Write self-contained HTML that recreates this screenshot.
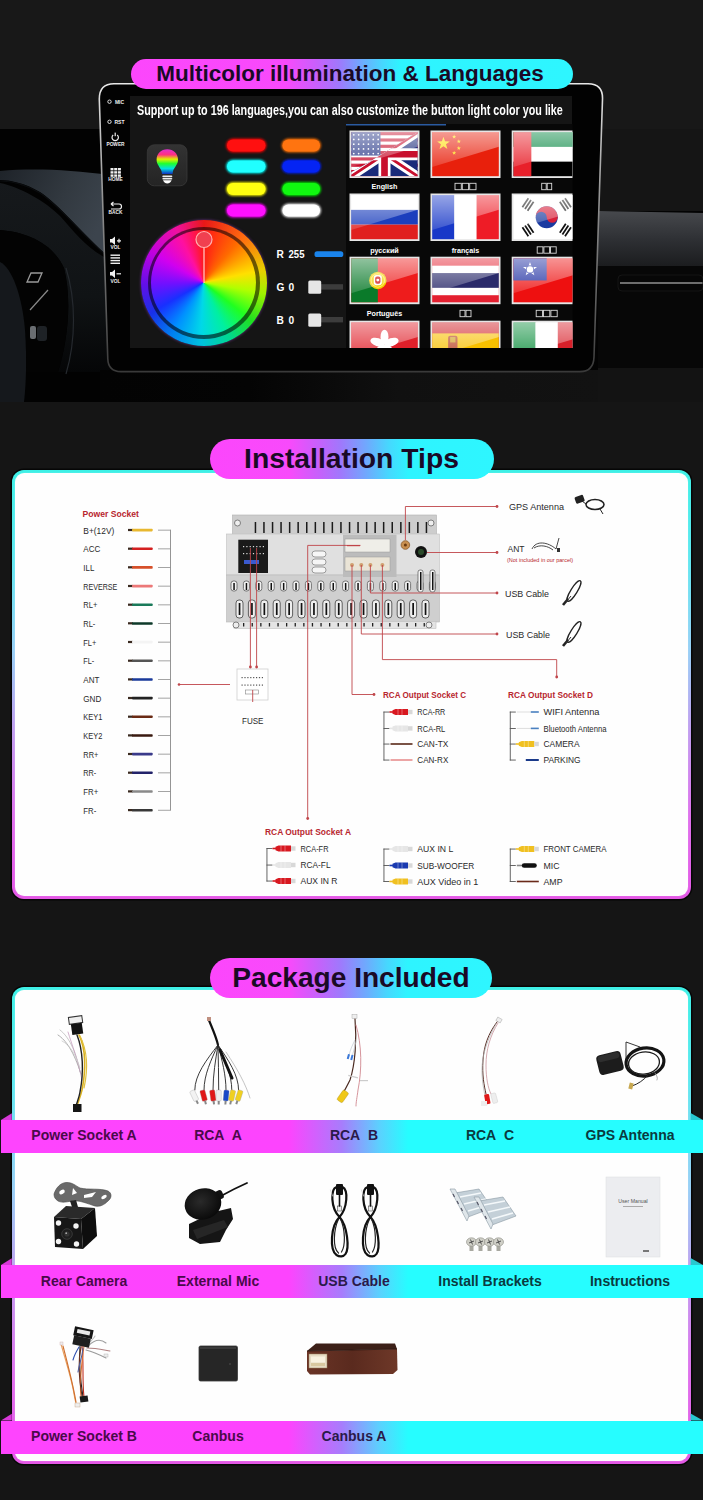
<!DOCTYPE html>
<html><head><meta charset="utf-8">
<style>
*{margin:0;padding:0;box-sizing:border-box}
html,body{width:703px;height:1500px;overflow:hidden;background:#151515;font-family:"Liberation Sans",sans-serif}
.a{position:absolute}
.pill{position:absolute;border-radius:30px;background:linear-gradient(90deg,#fc46fc 0%,#f84afb 28%,#c860fb 38%,#a078fc 46%,#70a8fd 55%,#46d8fe 63%,#2ef4ff 70%,#2ef6ff 100%);color:#1a0a26;font-weight:bold;text-align:center;white-space:nowrap}
.panel{position:absolute;border-radius:12px;background:linear-gradient(180deg,#3ef0e6 0%,#60e8f0 20%,#98d0f6 42%,#c0a0f0 60%,#e070ec 82%,#e458e6 100%);box-shadow:0 0 0 1.5px #060606}
.panel>.in{position:absolute;left:3px;top:3px;right:3px;bottom:3px;border-radius:9.5px;background:#fefefe;box-shadow:0 0 1px 0 rgba(255,255,255,.6)}
.band{position:absolute;left:1px;width:702px;height:33px;background:linear-gradient(90deg,#fe44fe 0%,#fd44fe 41%,#a87cfc 48.5%,#5ad2fe 54%,#26fdff 58%,#26fdff 100%)}
.band span{position:absolute;top:-1px;line-height:33px;font-size:14px;font-weight:bold;transform:translateX(-50%);white-space:nowrap}
.fl{position:absolute;width:0;height:0}
</style></head><body>
<!-- ===== SECTION 1 ===== -->
<div class="a" style="left:0;top:0;width:703px;height:129px;background:#181818"></div>
<div class="a" style="left:0;top:129px;width:703px;height:273px;background:#030303"></div>
<svg class="a" style="left:0;top:0" width="703" height="402" viewBox="0 0 703 402">
<defs>
<linearGradient id="hood" x1="0" y1="0" x2="0" y2="1"><stop offset="0" stop-color="#3d444c"/><stop offset="1" stop-color="#1c2126"/></linearGradient>
<linearGradient id="dash" x1="0" y1="0" x2="0" y2="1"><stop offset="0" stop-color="#47494d"/><stop offset="0.5" stop-color="#2e3034"/><stop offset="1" stop-color="#1a1b1d"/></linearGradient>
<linearGradient id="bez" x1="0" y1="0" x2="0" y2="1"><stop offset="0" stop-color="#e8e8e8"/><stop offset="0.35" stop-color="#9a9a9a"/><stop offset="1" stop-color="#3a3a3a"/></linearGradient>
</defs>
<!-- left interior -->
<linearGradient id="hood2" x1="0" y1="0" x2="1" y2="0.4"><stop offset="0" stop-color="#1e2329"/><stop offset="0.6" stop-color="#323940"/><stop offset="1" stop-color="#3c444d"/></linearGradient>
<radialGradient id="lowr" cx="0.2" cy="0.4" r="0.8"><stop offset="0" stop-color="#000"/><stop offset="1" stop-color="#181b1f"/></radialGradient>
<rect x="0" y="129" width="100" height="273" fill="#020202"/>
<path d="M0 171 C35 168 70 170 110 175 L110 258 C84 236 60 205 40 192 C25 183 10 180 0 180 Z" fill="url(#hood2)"/>
<path d="M0 181 C10 181 25 184 40 193 C60 206 82 235 110 259" fill="none" stroke="#0a0c0e" stroke-width="1.2"/>
<linearGradient id="lowg" x1="0" y1="0" x2="0" y2="1"><stop offset="0" stop-color="#16191c"/><stop offset="0.6" stop-color="#101315"/><stop offset="1" stop-color="#050607"/></linearGradient><path d="M0 183 C20 187 45 201 60 216 C75 233 88 250 110 260 L110 372 L58 372 C68 340 72 300 64 268 C52 242 25 232 0 230 Z" fill="url(#lowg)"/>
<path d="M0 230 C25 232 52 242 64 268 C72 300 68 340 58 372 L0 372 Z" fill="#030303"/>
<path d="M0 262 C12 268 22 295 25 330 C27 360 26 385 24 402 L0 402 Z" fill="#15181c"/>
<path d="M66 268 C76 300 76 340 66 374" fill="none" stroke="#25292e" stroke-width="1.2"/>
<path d="M31 273 L42 273 L38 282 L27 282 Z" fill="none" stroke="#9a9a9a" stroke-width="1.3"/>
<path d="M48 290 L30 310" stroke="#8a8a8a" stroke-width="1.2"/>
<rect x="30" y="326" width="6" height="13" rx="2" fill="#6a6e72"/>
<rect x="37" y="326" width="10" height="15" rx="3" fill="#1e2226"/>
<!-- right dashboard -->
<rect x="598" y="129" width="105" height="82" fill="#151515"/>
<path d="M598 211 L703 213 L703 268 L598 266 Z" fill="url(#dash)"/>
<rect x="598" y="266" width="105" height="102" fill="#070707"/>
<rect x="620" y="282" width="83" height="2" fill="#6e6e6e"/>
<rect x="618" y="275" width="85" height="16" rx="4" fill="none" stroke="#151515" stroke-width="1"/>
<rect x="598" y="368" width="105" height="34" fill="#131313"/>
<!-- below bezel shading -->
<linearGradient id="under" x1="0" y1="0" x2="1" y2="0"><stop offset="0" stop-color="#030303"/><stop offset="0.3" stop-color="#040404"/><stop offset="0.6" stop-color="#101010"/><stop offset="1" stop-color="#121212"/></linearGradient><rect x="100" y="370" width="498" height="32" fill="url(#under)"/>
<!-- bezel -->
<path d="M114 83.8 L588 83.8 Q603 83.8 602.5 99 L594 357 Q593.5 371.6 580 371.6 L121 371.6 Q108.3 371.6 107.8 359 L99.3 99 Q99.3 83.8 114 83.8 Z" fill="#020202" stroke="url(#bez)" stroke-width="1.6"/>
<!-- screen -->
<rect x="130" y="96" width="442" height="252" fill="#151515"/>
<rect x="346" y="124" width="226.5" height="224" fill="#080808"/>
<rect x="346" y="124" width="100" height="1.5" fill="#2a5aa0"/>
</svg>

<!-- screen content -->
<div class="a" style="left:137px;top:101.5px;font-size:14px;font-weight:bold;color:#fff;white-space:nowrap;transform:scaleX(0.77);transform-origin:0 0;line-height:16px">Support up to 196 languages,you can also customize the button light color you like</div>
<svg class="a" style="left:0;top:0" width="703" height="402" viewBox="0 0 703 402">
<defs>
<linearGradient id="bulb" x1="0" y1="0" x2="0" y2="1"><stop offset="0" stop-color="#e030d0"/><stop offset="0.22" stop-color="#ff3080"/><stop offset="0.4" stop-color="#e0f000"/><stop offset="0.58" stop-color="#20ff30"/><stop offset="0.78" stop-color="#00e0e0"/><stop offset="1" stop-color="#1030c0"/></linearGradient>
<linearGradient id="ibox" x1="0" y1="0" x2="0" y2="1"><stop offset="0" stop-color="#333"/><stop offset="1" stop-color="#242424"/></linearGradient>
<filter id="glow" x="-30%" y="-60%" width="160%" height="220%"><feGaussianBlur stdDeviation="1.3"/></filter>
</defs>
<!-- side buttons -->
<g fill="#f0f0f0" font-family="Liberation Sans" font-weight="bold" font-size="4.8" text-anchor="middle">
<circle cx="109.5" cy="101.7" r="1.7" fill="none" stroke="#ddd" stroke-width="1"/><text x="119.5" y="103.6" font-size="5">MIC</text>
<circle cx="109.5" cy="121.8" r="1.7" fill="none" stroke="#ddd" stroke-width="1"/><text x="119.5" y="123.7" font-size="5">RST</text>
<path d="M113.2 135 A3.2 3.2 0 1 0 117.2 135" fill="none" stroke="#eee" stroke-width="1.2"/><rect x="114.6" y="132.6" width="1.2" height="3.6"/><text x="115.5" y="146">POWER</text>
<rect x="110.5" y="168" width="3" height="2.4"/><rect x="114.2" y="168" width="3" height="2.4"/><rect x="117.9" y="168" width="3" height="2.4"/>
<rect x="110.5" y="171.2" width="3" height="2.4"/><rect x="114.2" y="171.2" width="3" height="2.4"/><rect x="117.9" y="171.2" width="3" height="2.4"/>
<rect x="110.5" y="174.4" width="3" height="2.4"/><rect x="114.2" y="174.4" width="3" height="2.4"/><rect x="117.9" y="174.4" width="3" height="2.4"/>
<text x="115.5" y="181">HOME</text>
<path d="M111 204 L119 204 A2.5 2.5 0 0 1 119 209 L111 209 M111 204 L113.5 202 M111 204 L113.5 206" fill="none" stroke="#eee" stroke-width="1.2"/><text x="115.5" y="214">BACK</text>
<path d="M110 239 L112 239 L115 236.5 L115 245 L112 242.5 L110 242.5 Z"/><path d="M117 240.8 L121 240.8 M119 238.8 L119 242.8" stroke="#eee" stroke-width="1.2"/><text x="115.5" y="249">VOL</text>
<rect x="110.5" y="254.5" width="9.5" height="1.4"/><rect x="110.5" y="257.2" width="9.5" height="1.4"/><rect x="110.5" y="259.9" width="9.5" height="1.4"/><rect x="110.5" y="262.6" width="9.5" height="1.4"/>
<path d="M110 272 L112 272 L115 269.5 L115 278 L112 275.5 L110 275.5 Z"/><path d="M116.5 273.8 L121 273.8" stroke="#eee" stroke-width="1.2"/><text x="115.5" y="283">VOL</text>
</g>
<!-- bulb icon -->
<rect x="147.3" y="144.8" width="39.7" height="41" rx="7" fill="url(#ibox)" stroke="#3a3a3a" stroke-width="0.8"/>
<path d="M167.3 149.3 C173.5 149.3 178 153.5 178 159.8 C178 164.5 174.5 167 173 171 L172.5 174 L162 174 L161.5 171 C160 167 156.6 164.5 156.6 159.8 C156.6 153.5 161 149.3 167.3 149.3 Z" fill="url(#bulb)"/>
<rect x="162.3" y="175.6" width="10" height="1.6" rx="0.8" fill="#eee"/>
<rect x="162.3" y="178" width="10" height="1.6" rx="0.8" fill="#eee"/>
<path d="M163 180.3 L171.6 180.3 Q170 183.5 167.3 183.5 Q164.6 183.5 163 180.3 Z" fill="#fff"/>
<!-- color pills -->
<g filter="url(#glow)" opacity="0.9">
<rect x="226" y="138.5" width="40.5" height="14" rx="7" fill="#ff0000"/>
<rect x="281.5" y="138.5" width="39.5" height="14" rx="7" fill="#ff7000"/>
<rect x="226" y="159.5" width="40.5" height="14" rx="7" fill="#00ffff"/>
<rect x="281.5" y="159.5" width="39.5" height="14" rx="7" fill="#0020ff"/>
<rect x="226" y="182" width="40.5" height="14" rx="7" fill="#ffff00"/>
<rect x="281.5" y="182" width="39.5" height="14" rx="7" fill="#00ff00"/>
<rect x="226" y="203.5" width="40.5" height="14" rx="7" fill="#ff00ff"/>
<rect x="281.5" y="203.5" width="39.5" height="14" rx="7" fill="#ffffff"/>
</g>
<rect x="227" y="139.5" width="38.5" height="12" rx="6" fill="#ff1010"/>
<rect x="282.5" y="139.5" width="37.5" height="12" rx="6" fill="#ff7410"/>
<rect x="227" y="160.5" width="38.5" height="12" rx="6" fill="#20ffff"/>
<rect x="282.5" y="160.5" width="37.5" height="12" rx="6" fill="#0524f4"/>
<rect x="227" y="183" width="38.5" height="12" rx="6" fill="#ffff10"/>
<rect x="282.5" y="183" width="37.5" height="12" rx="6" fill="#10f810"/>
<rect x="227" y="204.5" width="38.5" height="12" rx="6" fill="#ff10ff"/>
<rect x="282.5" y="204.5" width="37.5" height="12" rx="6" fill="#ffffff"/>
<!-- RGB -->
<g fill="#fff" font-family="Liberation Sans" font-weight="bold" font-size="10.2">
<text x="276.5" y="258.2">R</text><text x="288.5" y="258.2" textLength="16" lengthAdjust="spacingAndGlyphs">255</text>
<text x="276.5" y="291.2">G</text><text x="288.5" y="291.2">0</text>
<text x="276.5" y="323.9">B</text><text x="288.5" y="323.9">0</text>
</g>
<rect x="314.5" y="251.2" width="28.8" height="5.8" rx="2.6" fill="#1a84ec"/>
<rect x="318" y="284.2" width="25" height="5.4" fill="#3c3c3c"/>
<rect x="318" y="317" width="25" height="5.4" fill="#3c3c3c"/>
<rect x="308.3" y="280.6" width="12.9" height="13.2" rx="1.5" fill="#e6e6e6"/>
<rect x="308.3" y="313.6" width="12.9" height="13.2" rx="1.5" fill="#e6e6e6"/>
</svg>
<!-- colour wheel -->
<div class="a" style="left:140.5px;top:219.5px;width:126px;height:126px;border-radius:50%;background:conic-gradient(from 0deg,#e81818 0deg,#ff6a10 40deg,#e8d000 78deg,#a0f000 100deg,#20e020 128deg,#00d890 155deg,#00c0e0 183deg,#0080f0 212deg,#1830e8 240deg,#6010e8 268deg,#c000e0 300deg,#f010a0 333deg,#e81818 360deg);box-shadow:0 0 3px rgba(200,80,255,.5)"></div>
<div class="a" style="left:147.5px;top:226.5px;width:112px;height:112px;border-radius:50%;background:rgba(0,0,0,.55)"></div>
<div class="a" style="left:151px;top:230px;width:105px;height:105px;border-radius:50%;background:conic-gradient(from 0deg,#ff1818 0deg,#ff6a00 40deg,#ffe000 78deg,#b0ff00 100deg,#20ff20 128deg,#00f0a0 155deg,#00d8e8 183deg,#0090ff 212deg,#1830ff 240deg,#7010ff 268deg,#d000f0 300deg,#ff10a0 333deg,#ff1818 360deg)"></div>
<svg class="a" style="left:0;top:0" width="703" height="402" viewBox="0 0 703 402">
<line x1="204" y1="247" x2="204" y2="283" stroke="#ffd0d0" stroke-width="1.2"/>
<circle cx="204" cy="239.5" r="8" fill="#f04050" stroke="#ffb0b0" stroke-width="1.2"/>
</svg>

<svg class="a" style="left:0;top:0" width="703" height="402" viewBox="0 0 703 402">
<defs><clipPath id="scr"><rect x="346" y="124" width="226.5" height="224"/></clipPath>
<linearGradient id="sheen" x1="0" y1="0" x2="0" y2="1"><stop offset="0" stop-color="#fff" stop-opacity="0.55"/><stop offset="1" stop-color="#fff" stop-opacity="0.15"/></linearGradient>
</defs><g clip-path="url(#scr)">
<g transform="translate(349.5,130.5)"><rect x="0" y="0" width="70" height="47.5" fill="#e6e6e6"/><svg x="1.6" y="1.6" width="66.8" height="44.3" viewBox="0 0 100 66" preserveAspectRatio="none"><rect width="100" height="66" fill="#c8102e"/><rect y="4.7" width="100" height="4.7" fill="#fff"/><rect y="14.100000000000001" width="100" height="4.7" fill="#fff"/><rect y="23.5" width="100" height="4.7" fill="#fff"/><rect y="32.900000000000006" width="100" height="4.7" fill="#fff"/><rect y="42.300000000000004" width="100" height="4.7" fill="#fff"/><rect y="51.7" width="100" height="4.7" fill="#fff"/><rect y="61.10000000000001" width="100" height="4.7" fill="#fff"/><rect width="44" height="35" fill="#2a3a8a"/><circle cx="4.0" cy="4" r="1.3" fill="#fff"/><circle cx="11.3" cy="4" r="1.3" fill="#fff"/><circle cx="18.6" cy="4" r="1.3" fill="#fff"/><circle cx="25.9" cy="4" r="1.3" fill="#fff"/><circle cx="33.2" cy="4" r="1.3" fill="#fff"/><circle cx="40.5" cy="4" r="1.3" fill="#fff"/><circle cx="4.0" cy="11" r="1.3" fill="#fff"/><circle cx="11.3" cy="11" r="1.3" fill="#fff"/><circle cx="18.6" cy="11" r="1.3" fill="#fff"/><circle cx="25.9" cy="11" r="1.3" fill="#fff"/><circle cx="33.2" cy="11" r="1.3" fill="#fff"/><circle cx="40.5" cy="11" r="1.3" fill="#fff"/><circle cx="4.0" cy="18" r="1.3" fill="#fff"/><circle cx="11.3" cy="18" r="1.3" fill="#fff"/><circle cx="18.6" cy="18" r="1.3" fill="#fff"/><circle cx="25.9" cy="18" r="1.3" fill="#fff"/><circle cx="33.2" cy="18" r="1.3" fill="#fff"/><circle cx="40.5" cy="18" r="1.3" fill="#fff"/><circle cx="4.0" cy="25" r="1.3" fill="#fff"/><circle cx="11.3" cy="25" r="1.3" fill="#fff"/><circle cx="18.6" cy="25" r="1.3" fill="#fff"/><circle cx="25.9" cy="25" r="1.3" fill="#fff"/><circle cx="33.2" cy="25" r="1.3" fill="#fff"/><circle cx="40.5" cy="25" r="1.3" fill="#fff"/><circle cx="4.0" cy="32" r="1.3" fill="#fff"/><circle cx="11.3" cy="32" r="1.3" fill="#fff"/><circle cx="18.6" cy="32" r="1.3" fill="#fff"/><circle cx="25.9" cy="32" r="1.3" fill="#fff"/><circle cx="33.2" cy="32" r="1.3" fill="#fff"/><circle cx="40.5" cy="32" r="1.3" fill="#fff"/><defs><clipPath id="ukc"><polygon points="100,0 100,66 0,66 0,60 25,46"/></clipPath></defs><g clip-path="url(#ukc)"><rect width="100" height="66" fill="#1a2a7a"/><path d="M0 66 L100 0 M0 0 L100 66" stroke="#fff" stroke-width="13"/><path d="M0 66 L100 0 M0 0 L100 66" stroke="#c8102e" stroke-width="4"/><path d="M50 0 V66 M0 33 H100" stroke="#fff" stroke-width="18"/><path d="M50 0 V66 M0 33 H100" stroke="#c8102e" stroke-width="10"/></g><polygon points="0,0 100,0 100,22 0,52" fill="url(#sheen)"/></svg></g>
<g transform="translate(430.5,130.5)"><rect x="0" y="0" width="70" height="47.5" fill="#e6e6e6"/><svg x="1.6" y="1.6" width="66.8" height="44.3" viewBox="0 0 100 66" preserveAspectRatio="none"><rect width="100" height="66" fill="#e8200c"/><polygon points="17.0,7.0 19.4,13.8 26.5,13.9 20.8,18.2 22.9,25.1 17.0,21.0 11.1,25.1 13.2,18.2 7.5,13.9 14.6,13.8" fill="#ffde00"/><polygon points="33.0,3.7 33.8,5.9 36.1,6.0 34.3,7.4 34.9,9.7 33.0,8.3 31.1,9.7 31.7,7.4 29.9,6.0 32.2,5.9" fill="#ffde00"/><polygon points="40.0,10.7 40.8,12.9 43.1,13.0 41.3,14.4 41.9,16.7 40.0,15.3 38.1,16.7 38.7,14.4 36.9,13.0 39.2,12.9" fill="#ffde00"/><polygon points="40.0,20.7 40.8,22.9 43.1,23.0 41.3,24.4 41.9,26.7 40.0,25.3 38.1,26.7 38.7,24.4 36.9,23.0 39.2,22.9" fill="#ffde00"/><polygon points="33.0,27.7 33.8,29.9 36.1,30.0 34.3,31.4 34.9,33.7 33.0,32.3 31.1,33.7 31.7,31.4 29.9,30.0 32.2,29.9" fill="#ffde00"/><polygon points="0,0 100,0 100,22 0,52" fill="url(#sheen)"/></svg></g>
<g transform="translate(511.7,130.5)"><rect x="0" y="0" width="70" height="47.5" fill="#e6e6e6"/><svg x="1.6" y="1.6" width="66.8" height="44.3" viewBox="0 0 100 66" preserveAspectRatio="none"><rect width="100" height="66" fill="#fff"/><rect width="100" height="22" fill="#00843d"/><rect y="44" width="100" height="22" fill="#000"/><rect width="27" height="66" fill="#e8202a"/><polygon points="0,0 100,0 100,22 0,52" fill="url(#sheen)"/></svg></g>
<g transform="translate(349.5,193.5)"><rect x="0" y="0" width="70" height="47.5" fill="#e6e6e6"/><svg x="1.6" y="1.6" width="66.8" height="44.3" viewBox="0 0 100 66" preserveAspectRatio="none"><rect width="100" height="22" fill="#fff"/><rect y="22" width="100" height="22" fill="#1c3fbd"/><rect y="44" width="100" height="22" fill="#e0201e"/><polygon points="0,0 100,0 100,22 0,52" fill="url(#sheen)"/></svg></g>
<g transform="translate(430.5,193.5)"><rect x="0" y="0" width="70" height="47.5" fill="#e6e6e6"/><svg x="1.6" y="1.6" width="66.8" height="44.3" viewBox="0 0 100 66" preserveAspectRatio="none"><rect width="33.4" height="66" fill="#1838c8"/><rect x="33.3" width="33.4" height="66" fill="#fff"/><rect x="66.6" width="33.4" height="66" fill="#ee1c26"/><polygon points="0,0 100,0 100,22 0,52" fill="url(#sheen)"/></svg></g>
<g transform="translate(511.7,193.5)"><rect x="0" y="0" width="70" height="47.5" fill="#e6e6e6"/><svg x="1.6" y="1.6" width="66.8" height="44.3" viewBox="0 0 100 66" preserveAspectRatio="none"><rect width="100" height="66" fill="#fff"/><circle cx="50" cy="33" r="16.5" fill="#1a3aa0"/><path d="M33.5 33 A16.5 16.5 0 0 1 66.5 33 A8.25 8.25 0 0 1 50 33 A8.25 8.25 0 0 0 33.5 33 Z" fill="#d8203a"/><g transform="translate(22,14) rotate(-56)"><rect x="-8" y="-6" width="16" height="2.6" fill="#111"/><rect x="-8" y="-1.3" width="16" height="2.6" fill="#111"/><rect x="-8" y="3.4" width="16" height="2.6" fill="#111"/></g><g transform="translate(78,14) rotate(56)"><rect x="-8" y="-6" width="16" height="2.6" fill="#111"/><rect x="-8" y="-1.3" width="16" height="2.6" fill="#111"/><rect x="-8" y="3.4" width="16" height="2.6" fill="#111"/></g><g transform="translate(22,52) rotate(56)"><rect x="-8" y="-6" width="16" height="2.6" fill="#111"/><rect x="-8" y="-1.3" width="16" height="2.6" fill="#111"/><rect x="-8" y="3.4" width="16" height="2.6" fill="#111"/></g><g transform="translate(78,52) rotate(-56)"><rect x="-8" y="-6" width="16" height="2.6" fill="#111"/><rect x="-8" y="-1.3" width="16" height="2.6" fill="#111"/><rect x="-8" y="3.4" width="16" height="2.6" fill="#111"/></g><polygon points="0,0 100,0 100,22 0,52" fill="url(#sheen)"/></svg></g>
<g transform="translate(349.5,256.7)"><rect x="0" y="0" width="70" height="47.5" fill="#e6e6e6"/><svg x="1.6" y="1.6" width="66.8" height="44.3" viewBox="0 0 100 66" preserveAspectRatio="none"><rect width="100" height="66" fill="#ee1c1c"/><rect width="40" height="66" fill="#0a7a2a"/><circle cx="40" cy="33" r="13" fill="#f2d000"/><circle cx="40" cy="33" r="10" fill="none" stroke="#ffe860" stroke-width="1.5"/><rect x="34" y="25" width="12" height="15" rx="4" fill="#fff"/><rect x="36" y="27" width="8" height="11" rx="3" fill="#d01010"/><circle cx="40" cy="32.5" r="2.2" fill="#fff"/><polygon points="0,0 100,0 100,22 0,52" fill="url(#sheen)"/></svg></g>
<g transform="translate(430.5,256.7)"><rect x="0" y="0" width="70" height="47.5" fill="#e6e6e6"/><svg x="1.6" y="1.6" width="66.8" height="44.3" viewBox="0 0 100 66" preserveAspectRatio="none"><rect width="100" height="66" fill="#e42030"/><rect y="11" width="100" height="44" fill="#fff"/><rect y="22" width="100" height="22" fill="#2a2a6a"/><polygon points="0,0 100,0 100,22 0,52" fill="url(#sheen)"/></svg></g>
<g transform="translate(511.7,256.7)"><rect x="0" y="0" width="70" height="47.5" fill="#e6e6e6"/><svg x="1.6" y="1.6" width="66.8" height="44.3" viewBox="0 0 100 66" preserveAspectRatio="none"><rect width="100" height="66" fill="#ee1010"/><rect width="50" height="33" fill="#1a2aa0"/><polygon points="25.0,5.5 27.6,12.9 35.5,13.1 29.2,17.9 31.5,25.4 25.0,20.9 18.5,25.4 20.8,17.9 14.5,13.1 22.4,12.9" fill="#fff"/><circle cx="25" cy="16.5" r="6" fill="#1a2aa0"/><circle cx="25" cy="16.5" r="4.8" fill="#fff"/><polygon points="0,0 100,0 100,22 0,52" fill="url(#sheen)"/></svg></g>
<g transform="translate(349.5,320.7)"><rect x="0" y="0" width="70" height="47.5" fill="#e6e6e6"/><svg x="1.6" y="1.6" width="66.8" height="44.3" viewBox="0 0 100 66" preserveAspectRatio="none"><rect width="100" height="66" fill="#e0202a"/><ellipse cx="50" cy="22" rx="6" ry="11" fill="#fff" transform="rotate(0 50 33)"/><ellipse cx="50" cy="22" rx="6" ry="11" fill="#fff" transform="rotate(72 50 33)"/><ellipse cx="50" cy="22" rx="6" ry="11" fill="#fff" transform="rotate(144 50 33)"/><ellipse cx="50" cy="22" rx="6" ry="11" fill="#fff" transform="rotate(216 50 33)"/><ellipse cx="50" cy="22" rx="6" ry="11" fill="#fff" transform="rotate(288 50 33)"/><polygon points="0,0 100,0 100,22 0,52" fill="url(#sheen)"/></svg></g>
<g transform="translate(430.5,320.7)"><rect x="0" y="0" width="70" height="47.5" fill="#e6e6e6"/><svg x="1.6" y="1.6" width="66.8" height="44.3" viewBox="0 0 100 66" preserveAspectRatio="none"><rect width="100" height="66" fill="#d01a20"/><rect y="16.5" width="100" height="33" fill="#f8c000"/><rect x="24" y="20" width="14" height="20" rx="3" fill="#b84020"/><rect x="27" y="22" width="8" height="8" fill="#d0a020"/><polygon points="0,0 100,0 100,22 0,52" fill="url(#sheen)"/></svg></g>
<g transform="translate(511.7,320.7)"><rect x="0" y="0" width="70" height="47.5" fill="#e6e6e6"/><svg x="1.6" y="1.6" width="66.8" height="44.3" viewBox="0 0 100 66" preserveAspectRatio="none"><rect width="33.4" height="66" fill="#109040"/><rect x="33.3" width="33.4" height="66" fill="#fff"/><rect x="66.6" width="33.4" height="66" fill="#d8202a"/><polygon points="0,0 100,0 100,22 0,52" fill="url(#sheen)"/></svg></g>
<text x="384.5" y="189.3" fill="#fff" font-family="Liberation Sans" font-weight="bold" font-size="7.2" text-anchor="middle">English</text>
<rect x="455.0" y="183.3" width="6.3" height="6.4" fill="none" stroke="#fff" stroke-width="0.9" opacity="0.85"/>
<rect x="462.3" y="183.3" width="6.3" height="6.4" fill="none" stroke="#fff" stroke-width="0.9" opacity="0.85"/>
<rect x="469.7" y="183.3" width="6.3" height="6.4" fill="none" stroke="#fff" stroke-width="0.9" opacity="0.85"/>
<rect x="541.7" y="183.3" width="4.5" height="6.4" fill="none" stroke="#fff" stroke-width="0.9" opacity="0.85"/>
<rect x="547.2" y="183.3" width="4.5" height="6.4" fill="none" stroke="#fff" stroke-width="0.9" opacity="0.85"/>
<text x="384.5" y="252.8" fill="#fff" font-family="Liberation Sans" font-weight="bold" font-size="7.2" text-anchor="middle">русский</text>
<text x="465.5" y="252.8" fill="#fff" font-family="Liberation Sans" font-weight="bold" font-size="7.2" text-anchor="middle">français</text>
<rect x="537.2" y="246.8" width="5.7" height="6.4" fill="none" stroke="#fff" stroke-width="0.9" opacity="0.85"/>
<rect x="543.9" y="246.8" width="5.7" height="6.4" fill="none" stroke="#fff" stroke-width="0.9" opacity="0.85"/>
<rect x="550.5" y="246.8" width="5.7" height="6.4" fill="none" stroke="#fff" stroke-width="0.9" opacity="0.85"/>
<text x="384.5" y="316.3" fill="#fff" font-family="Liberation Sans" font-weight="bold" font-size="7.2" text-anchor="middle">Português</text>
<rect x="460.0" y="310.3" width="5.0" height="6.4" fill="none" stroke="#fff" stroke-width="0.9" opacity="0.85"/>
<rect x="466.0" y="310.3" width="5.0" height="6.4" fill="none" stroke="#fff" stroke-width="0.9" opacity="0.85"/>
<rect x="536.2" y="310.3" width="6.3" height="6.4" fill="none" stroke="#fff" stroke-width="0.9" opacity="0.85"/>
<rect x="543.5" y="310.3" width="6.3" height="6.4" fill="none" stroke="#fff" stroke-width="0.9" opacity="0.85"/>
<rect x="550.9" y="310.3" width="6.3" height="6.4" fill="none" stroke="#fff" stroke-width="0.9" opacity="0.85"/>
</g></svg>
<div id="s1"></div>

<!-- ===== SECTION 2 ===== -->
<div class="panel" style="left:11.8px;top:469.8px;width:678.8px;height:429px"><div class="in"></div></div>
<div class="pill" style="left:209.5px;top:438.5px;width:284px;height:40px;line-height:39px;font-size:28.3px">Installation Tips</div>
<!--S2START--><svg class="a" style="left:0;top:0" width="703" height="940" viewBox="0 0 703 940" font-family="Liberation Sans">
<defs><linearGradient id="chg" x1="0" y1="0" x2="0" y2="1"><stop offset="0" stop-color="#d6d6d6"/><stop offset="1" stop-color="#c8c8c8"/></linearGradient></defs>
<text x="82.5" y="517" font-size="9" font-weight="bold" fill="#b8262e" textLength="56.5" lengthAdjust="spacingAndGlyphs">Power Socket</text>
<text x="83.3" y="533.5" font-size="9.4" fill="#2a2a2a" textLength="31" lengthAdjust="spacingAndGlyphs">B+(12V)</text>
<rect x="128" y="528.9" width="5" height="2.2" fill="#3a2a20"/>
<rect x="132" y="528.8" width="20.7" height="2.6" fill="#e8b830" rx="0.8"/>
<rect x="158" y="529.7" width="12.4" height="0.9" fill="#9a9a9a"/>
<text x="83.3" y="552.2" font-size="9.4" fill="#2a2a2a" textLength="17" lengthAdjust="spacingAndGlyphs">ACC</text>
<rect x="128" y="547.6" width="5" height="2.2" fill="#3a2a20"/>
<rect x="132" y="547.5" width="20.7" height="2.6" fill="#d42020" rx="0.8"/>
<rect x="158" y="548.4" width="12.4" height="0.9" fill="#9a9a9a"/>
<text x="83.3" y="570.8" font-size="9.4" fill="#2a2a2a" textLength="11" lengthAdjust="spacingAndGlyphs">ILL</text>
<rect x="128" y="566.2" width="5" height="2.2" fill="#3a2a20"/>
<rect x="132" y="566.1" width="20.7" height="2.6" fill="#d6502a" rx="0.8"/>
<rect x="158" y="567.0" width="12.4" height="0.9" fill="#9a9a9a"/>
<text x="83.3" y="589.5" font-size="9.4" fill="#2a2a2a" textLength="34" lengthAdjust="spacingAndGlyphs">REVERSE</text>
<rect x="128" y="584.9" width="5" height="2.2" fill="#3a2a20"/>
<rect x="132" y="584.8" width="20.7" height="2.6" fill="#ec7878" rx="0.8"/>
<rect x="158" y="585.7" width="12.4" height="0.9" fill="#9a9a9a"/>
<text x="83.3" y="608.2" font-size="9.4" fill="#2a2a2a" textLength="14" lengthAdjust="spacingAndGlyphs">RL+</text>
<rect x="128" y="603.6" width="5" height="2.2" fill="#3a2a20"/>
<rect x="132" y="603.5" width="20.7" height="2.6" fill="#1a7a5a" rx="0.8"/>
<rect x="158" y="604.4" width="12.4" height="0.9" fill="#9a9a9a"/>
<text x="83.3" y="626.9" font-size="9.4" fill="#2a2a2a" textLength="12" lengthAdjust="spacingAndGlyphs">RL-</text>
<rect x="128" y="622.2" width="5" height="2.2" fill="#3a2a20"/>
<rect x="132" y="622.2" width="20.7" height="2.6" fill="#0e3a2a" rx="0.8"/>
<rect x="158" y="623.1" width="12.4" height="0.9" fill="#9a9a9a"/>
<text x="83.3" y="645.5" font-size="9.4" fill="#2a2a2a" textLength="13" lengthAdjust="spacingAndGlyphs">FL+</text>
<rect x="128" y="640.9" width="5" height="2.2" fill="#3a2a20"/>
<rect x="132" y="640.8" width="20.7" height="2.6" fill="#f4f4f4" rx="0.8"/>
<rect x="158" y="641.7" width="12.4" height="0.9" fill="#9a9a9a"/>
<text x="83.3" y="664.2" font-size="9.4" fill="#2a2a2a" textLength="11" lengthAdjust="spacingAndGlyphs">FL-</text>
<rect x="128" y="659.6" width="5" height="2.2" fill="#3a2a20"/>
<rect x="132" y="659.5" width="20.7" height="2.6" fill="#555555" rx="0.8"/>
<rect x="158" y="660.4" width="12.4" height="0.9" fill="#9a9a9a"/>
<text x="83.3" y="682.9" font-size="9.4" fill="#2a2a2a" textLength="16" lengthAdjust="spacingAndGlyphs">ANT</text>
<rect x="128" y="678.3" width="5" height="2.2" fill="#3a2a20"/>
<rect x="132" y="678.2" width="20.7" height="2.6" fill="#1a3a9a" rx="0.8"/>
<rect x="158" y="679.1" width="12.4" height="0.9" fill="#9a9a9a"/>
<text x="83.3" y="701.5" font-size="9.4" fill="#2a2a2a" textLength="18" lengthAdjust="spacingAndGlyphs">GND</text>
<rect x="128" y="696.9" width="5" height="2.2" fill="#3a2a20"/>
<rect x="132" y="696.8" width="20.7" height="2.6" fill="#222222" rx="0.8"/>
<rect x="158" y="697.7" width="12.4" height="0.9" fill="#9a9a9a"/>
<text x="83.3" y="720.2" font-size="9.4" fill="#2a2a2a" textLength="19" lengthAdjust="spacingAndGlyphs">KEY1</text>
<rect x="128" y="715.6" width="5" height="2.2" fill="#3a2a20"/>
<rect x="132" y="715.5" width="20.7" height="2.6" fill="#6a2a14" rx="0.8"/>
<rect x="158" y="716.4" width="12.4" height="0.9" fill="#9a9a9a"/>
<text x="83.3" y="738.9" font-size="9.4" fill="#2a2a2a" textLength="19" lengthAdjust="spacingAndGlyphs">KEY2</text>
<rect x="128" y="734.3" width="5" height="2.2" fill="#3a2a20"/>
<rect x="132" y="734.2" width="20.7" height="2.6" fill="#3a1a10" rx="0.8"/>
<rect x="158" y="735.1" width="12.4" height="0.9" fill="#9a9a9a"/>
<text x="83.3" y="757.5" font-size="9.4" fill="#2a2a2a" textLength="15" lengthAdjust="spacingAndGlyphs">RR+</text>
<rect x="128" y="752.9" width="5" height="2.2" fill="#3a2a20"/>
<rect x="132" y="752.8" width="20.7" height="2.6" fill="#3a3a8a" rx="0.8"/>
<rect x="158" y="753.7" width="12.4" height="0.9" fill="#9a9a9a"/>
<text x="83.3" y="776.2" font-size="9.4" fill="#2a2a2a" textLength="13" lengthAdjust="spacingAndGlyphs">RR-</text>
<rect x="128" y="771.6" width="5" height="2.2" fill="#3a2a20"/>
<rect x="132" y="771.5" width="20.7" height="2.6" fill="#23236a" rx="0.8"/>
<rect x="158" y="772.4" width="12.4" height="0.9" fill="#9a9a9a"/>
<text x="83.3" y="794.9" font-size="9.4" fill="#2a2a2a" textLength="15" lengthAdjust="spacingAndGlyphs">FR+</text>
<rect x="128" y="790.3" width="5" height="2.2" fill="#3a2a20"/>
<rect x="132" y="790.2" width="20.7" height="2.6" fill="#8a8a8a" rx="0.8"/>
<rect x="158" y="791.1" width="12.4" height="0.9" fill="#9a9a9a"/>
<text x="83.3" y="813.6" font-size="9.4" fill="#2a2a2a" textLength="13" lengthAdjust="spacingAndGlyphs">FR-</text>
<rect x="128" y="809.0" width="5" height="2.2" fill="#3a2a20"/>
<rect x="132" y="808.9" width="20.7" height="2.6" fill="#383838" rx="0.8"/>
<rect x="158" y="809.8" width="12.4" height="0.9" fill="#9a9a9a"/>
<rect x="170" y="529.7" width="0.9" height="280.9" fill="#8a8a8a"/>
<rect x="179" y="684" width="51" height="0.9" fill="#c0454a"/><circle cx="179" cy="684.5" r="1.3" fill="#c0454a"/>
<rect x="237" y="669" width="31" height="31" fill="#fff" stroke="#cfcfcf" stroke-width="0.8"/>
<rect x="241.5" y="677" width="1.2" height="1.2" fill="#555"/>
<rect x="244.4" y="677" width="1.2" height="1.2" fill="#555"/>
<rect x="247.3" y="677" width="1.2" height="1.2" fill="#555"/>
<rect x="250.2" y="677" width="1.2" height="1.2" fill="#555"/>
<rect x="253.1" y="677" width="1.2" height="1.2" fill="#555"/>
<rect x="256.0" y="677" width="1.2" height="1.2" fill="#555"/>
<rect x="258.9" y="677" width="1.2" height="1.2" fill="#555"/>
<rect x="261.8" y="677" width="1.2" height="1.2" fill="#555"/>
<rect x="241.5" y="684.5" width="1.2" height="1.2" fill="#555"/>
<rect x="244.4" y="684.5" width="1.2" height="1.2" fill="#555"/>
<rect x="247.3" y="684.5" width="1.2" height="1.2" fill="#555"/>
<rect x="250.2" y="684.5" width="1.2" height="1.2" fill="#555"/>
<rect x="253.1" y="684.5" width="1.2" height="1.2" fill="#555"/>
<rect x="256.0" y="684.5" width="1.2" height="1.2" fill="#555"/>
<rect x="258.9" y="684.5" width="1.2" height="1.2" fill="#555"/>
<rect x="261.8" y="684.5" width="1.2" height="1.2" fill="#555"/>
<rect x="245.5" y="690" width="13" height="4" fill="none" stroke="#888" stroke-width="0.6"/>
<text x="242" y="724" font-size="9.4" fill="#2a2a2a" textLength="21.5" lengthAdjust="spacingAndGlyphs">FUSE</text>
<rect x="232.5" y="515" width="204" height="19.5" fill="#cdcdcd" stroke="#b0b0b0" stroke-width="0.6"/>
<rect x="226.5" y="534" width="213" height="41" fill="#e0e0e0" stroke="#c0c0c0" stroke-width="0.6"/>
<rect x="226.5" y="575" width="213" height="47" fill="#cfcfcf" stroke="#b8b8b8" stroke-width="0.6"/>
<rect x="234" y="621.5" width="202" height="7" fill="#e4e4e4" stroke="#c0c0c0" stroke-width="0.6"/>
<rect x="254.7" y="522" width="1.5" height="11" fill="#1a1a1a"/>
<rect x="263.2" y="522" width="1.5" height="11" fill="#1a1a1a"/>
<rect x="271.8" y="522" width="1.5" height="11" fill="#1a1a1a"/>
<rect x="280.3" y="522" width="1.5" height="11" fill="#1a1a1a"/>
<rect x="288.9" y="522" width="1.5" height="11" fill="#1a1a1a"/>
<rect x="297.4" y="522" width="1.5" height="11" fill="#1a1a1a"/>
<rect x="306.0" y="522" width="1.5" height="11" fill="#1a1a1a"/>
<rect x="314.6" y="522" width="1.5" height="11" fill="#1a1a1a"/>
<rect x="323.1" y="522" width="1.5" height="11" fill="#1a1a1a"/>
<rect x="331.6" y="522" width="1.5" height="11" fill="#1a1a1a"/>
<rect x="340.2" y="522" width="1.5" height="11" fill="#1a1a1a"/>
<rect x="348.8" y="522" width="1.5" height="11" fill="#1a1a1a"/>
<rect x="357.3" y="522" width="1.5" height="11" fill="#1a1a1a"/>
<rect x="365.9" y="522" width="1.5" height="11" fill="#1a1a1a"/>
<rect x="374.4" y="522" width="1.5" height="11" fill="#1a1a1a"/>
<rect x="382.9" y="522" width="1.5" height="11" fill="#1a1a1a"/>
<rect x="391.5" y="522" width="1.5" height="11" fill="#1a1a1a"/>
<rect x="400.1" y="522" width="1.5" height="11" fill="#1a1a1a"/>
<rect x="408.6" y="522" width="1.5" height="11" fill="#1a1a1a"/>
<rect x="417.1" y="522" width="1.5" height="11" fill="#1a1a1a"/>
<rect x="425.7" y="522" width="1.5" height="11" fill="#1a1a1a"/>
<circle cx="237.5" cy="523" r="3" fill="#eee" stroke="#666" stroke-width="0.8"/>
<circle cx="431" cy="523" r="3" fill="#eee" stroke="#666" stroke-width="0.8"/>
<circle cx="236" cy="625" r="3" fill="#eee" stroke="#666" stroke-width="0.8"/>
<circle cx="429" cy="625" r="3" fill="#eee" stroke="#666" stroke-width="0.8"/>
<rect x="231.0" y="581" width="6" height="10" rx="2.5" fill="#f2f2f2" stroke="#5a5a5a" stroke-width="0.8"/><rect x="233.3" y="583" width="1.5" height="7" fill="#111"/>
<rect x="243.4" y="581" width="6" height="10" rx="2.5" fill="#f2f2f2" stroke="#5a5a5a" stroke-width="0.8"/><rect x="245.7" y="583" width="1.5" height="7" fill="#111"/>
<rect x="255.8" y="581" width="6" height="10" rx="2.5" fill="#f2f2f2" stroke="#5a5a5a" stroke-width="0.8"/><rect x="258.1" y="583" width="1.5" height="7" fill="#111"/>
<rect x="268.2" y="581" width="6" height="10" rx="2.5" fill="#f2f2f2" stroke="#5a5a5a" stroke-width="0.8"/><rect x="270.5" y="583" width="1.5" height="7" fill="#111"/>
<rect x="280.6" y="581" width="6" height="10" rx="2.5" fill="#f2f2f2" stroke="#5a5a5a" stroke-width="0.8"/><rect x="282.9" y="583" width="1.5" height="7" fill="#111"/>
<rect x="293.0" y="581" width="6" height="10" rx="2.5" fill="#f2f2f2" stroke="#5a5a5a" stroke-width="0.8"/><rect x="295.3" y="583" width="1.5" height="7" fill="#111"/>
<rect x="305.4" y="581" width="6" height="10" rx="2.5" fill="#f2f2f2" stroke="#5a5a5a" stroke-width="0.8"/><rect x="307.7" y="583" width="1.5" height="7" fill="#111"/>
<rect x="317.8" y="581" width="6" height="10" rx="2.5" fill="#f2f2f2" stroke="#5a5a5a" stroke-width="0.8"/><rect x="320.1" y="583" width="1.5" height="7" fill="#111"/>
<rect x="330.2" y="581" width="6" height="10" rx="2.5" fill="#f2f2f2" stroke="#5a5a5a" stroke-width="0.8"/><rect x="332.5" y="583" width="1.5" height="7" fill="#111"/>
<rect x="342.6" y="581" width="6" height="10" rx="2.5" fill="#f2f2f2" stroke="#5a5a5a" stroke-width="0.8"/><rect x="344.9" y="583" width="1.5" height="7" fill="#111"/>
<rect x="355.0" y="581" width="6" height="10" rx="2.5" fill="#f2f2f2" stroke="#5a5a5a" stroke-width="0.8"/><rect x="357.3" y="583" width="1.5" height="7" fill="#111"/>
<rect x="367.4" y="581" width="6" height="10" rx="2.5" fill="#f2f2f2" stroke="#5a5a5a" stroke-width="0.8"/><rect x="369.7" y="583" width="1.5" height="7" fill="#111"/>
<rect x="379.8" y="581" width="6" height="10" rx="2.5" fill="#f2f2f2" stroke="#5a5a5a" stroke-width="0.8"/><rect x="382.1" y="583" width="1.5" height="7" fill="#111"/>
<rect x="392.2" y="581" width="6" height="10" rx="2.5" fill="#f2f2f2" stroke="#5a5a5a" stroke-width="0.8"/><rect x="394.5" y="583" width="1.5" height="7" fill="#111"/>
<rect x="404.6" y="581" width="6" height="10" rx="2.5" fill="#f2f2f2" stroke="#5a5a5a" stroke-width="0.8"/><rect x="406.9" y="583" width="1.5" height="7" fill="#111"/>
<rect x="417.0" y="581" width="6" height="10" rx="2.5" fill="#f2f2f2" stroke="#5a5a5a" stroke-width="0.8"/><rect x="419.3" y="583" width="1.5" height="7" fill="#111"/>
<rect x="429.4" y="581" width="6" height="10" rx="2.5" fill="#f2f2f2" stroke="#5a5a5a" stroke-width="0.8"/><rect x="431.7" y="583" width="1.5" height="7" fill="#111"/>
<rect x="236.0" y="600" width="7" height="18" rx="3" fill="#eeeeee" stroke="#505050" stroke-width="0.9"/><rect x="238.7" y="603" width="1.7" height="12" fill="#111"/>
<rect x="248.4" y="600" width="7" height="18" rx="3" fill="#eeeeee" stroke="#505050" stroke-width="0.9"/><rect x="251.1" y="603" width="1.7" height="12" fill="#111"/>
<rect x="260.8" y="600" width="7" height="18" rx="3" fill="#eeeeee" stroke="#505050" stroke-width="0.9"/><rect x="263.5" y="603" width="1.7" height="12" fill="#111"/>
<rect x="273.2" y="600" width="7" height="18" rx="3" fill="#eeeeee" stroke="#505050" stroke-width="0.9"/><rect x="275.9" y="603" width="1.7" height="12" fill="#111"/>
<rect x="285.6" y="600" width="7" height="18" rx="3" fill="#eeeeee" stroke="#505050" stroke-width="0.9"/><rect x="288.3" y="603" width="1.7" height="12" fill="#111"/>
<rect x="298.0" y="600" width="7" height="18" rx="3" fill="#eeeeee" stroke="#505050" stroke-width="0.9"/><rect x="300.7" y="603" width="1.7" height="12" fill="#111"/>
<rect x="310.4" y="600" width="7" height="18" rx="3" fill="#eeeeee" stroke="#505050" stroke-width="0.9"/><rect x="313.1" y="603" width="1.7" height="12" fill="#111"/>
<rect x="322.8" y="600" width="7" height="18" rx="3" fill="#eeeeee" stroke="#505050" stroke-width="0.9"/><rect x="325.5" y="603" width="1.7" height="12" fill="#111"/>
<rect x="335.2" y="600" width="7" height="18" rx="3" fill="#eeeeee" stroke="#505050" stroke-width="0.9"/><rect x="337.9" y="603" width="1.7" height="12" fill="#111"/>
<rect x="347.6" y="600" width="7" height="18" rx="3" fill="#eeeeee" stroke="#505050" stroke-width="0.9"/><rect x="350.3" y="603" width="1.7" height="12" fill="#111"/>
<rect x="360.0" y="600" width="7" height="18" rx="3" fill="#eeeeee" stroke="#505050" stroke-width="0.9"/><rect x="362.7" y="603" width="1.7" height="12" fill="#111"/>
<rect x="372.4" y="600" width="7" height="18" rx="3" fill="#eeeeee" stroke="#505050" stroke-width="0.9"/><rect x="375.1" y="603" width="1.7" height="12" fill="#111"/>
<rect x="384.8" y="600" width="7" height="18" rx="3" fill="#eeeeee" stroke="#505050" stroke-width="0.9"/><rect x="387.5" y="603" width="1.7" height="12" fill="#111"/>
<rect x="397.2" y="600" width="7" height="18" rx="3" fill="#eeeeee" stroke="#505050" stroke-width="0.9"/><rect x="399.9" y="603" width="1.7" height="12" fill="#111"/>
<rect x="409.6" y="600" width="7" height="18" rx="3" fill="#eeeeee" stroke="#505050" stroke-width="0.9"/><rect x="412.3" y="603" width="1.7" height="12" fill="#111"/>
<rect x="422.0" y="600" width="7" height="18" rx="3" fill="#eeeeee" stroke="#505050" stroke-width="0.9"/><rect x="424.7" y="603" width="1.7" height="12" fill="#111"/>
<rect x="243.0" y="623" width="1.3" height="3.5" fill="#222"/>
<rect x="251.6" y="623" width="1.3" height="3.5" fill="#222"/>
<rect x="260.2" y="623" width="1.3" height="3.5" fill="#222"/>
<rect x="268.8" y="623" width="1.3" height="3.5" fill="#222"/>
<rect x="277.4" y="623" width="1.3" height="3.5" fill="#222"/>
<rect x="286.0" y="623" width="1.3" height="3.5" fill="#222"/>
<rect x="294.6" y="623" width="1.3" height="3.5" fill="#222"/>
<rect x="303.2" y="623" width="1.3" height="3.5" fill="#222"/>
<rect x="311.8" y="623" width="1.3" height="3.5" fill="#222"/>
<rect x="320.4" y="623" width="1.3" height="3.5" fill="#222"/>
<rect x="329.0" y="623" width="1.3" height="3.5" fill="#222"/>
<rect x="337.6" y="623" width="1.3" height="3.5" fill="#222"/>
<rect x="346.2" y="623" width="1.3" height="3.5" fill="#222"/>
<rect x="354.8" y="623" width="1.3" height="3.5" fill="#222"/>
<rect x="363.4" y="623" width="1.3" height="3.5" fill="#222"/>
<rect x="372.0" y="623" width="1.3" height="3.5" fill="#222"/>
<rect x="380.6" y="623" width="1.3" height="3.5" fill="#222"/>
<rect x="389.2" y="623" width="1.3" height="3.5" fill="#222"/>
<rect x="397.8" y="623" width="1.3" height="3.5" fill="#222"/>
<rect x="406.4" y="623" width="1.3" height="3.5" fill="#222"/>
<rect x="415.0" y="623" width="1.3" height="3.5" fill="#222"/>
<rect x="423.6" y="623" width="1.3" height="3.5" fill="#222"/>
<rect x="418" y="570" width="5" height="22" rx="2" fill="#f4f4f4" stroke="#555" stroke-width="0.7"/><rect x="430" y="570" width="5" height="22" rx="2" fill="#f4f4f4" stroke="#555" stroke-width="0.7"/>
<rect x="420" y="572" width="1.5" height="18" fill="#111"/><rect x="432" y="572" width="1.5" height="18" fill="#111"/>
<rect x="238.3" y="539.7" width="29.7" height="33.3" fill="#1a1a1a"/>
<rect x="243.0" y="546" width="1.2" height="1.2" fill="#ddd"/><rect x="243.0" y="553" width="1.2" height="1.2" fill="#ddd"/>
<rect x="246.3" y="546" width="1.2" height="1.2" fill="#ddd"/><rect x="246.3" y="553" width="1.2" height="1.2" fill="#ddd"/>
<rect x="249.6" y="546" width="1.2" height="1.2" fill="#ddd"/><rect x="249.6" y="553" width="1.2" height="1.2" fill="#ddd"/>
<rect x="252.9" y="546" width="1.2" height="1.2" fill="#ddd"/><rect x="252.9" y="553" width="1.2" height="1.2" fill="#ddd"/>
<rect x="256.2" y="546" width="1.2" height="1.2" fill="#ddd"/><rect x="256.2" y="553" width="1.2" height="1.2" fill="#ddd"/>
<rect x="259.5" y="546" width="1.2" height="1.2" fill="#ddd"/><rect x="259.5" y="553" width="1.2" height="1.2" fill="#ddd"/>
<rect x="262.8" y="546" width="1.2" height="1.2" fill="#ddd"/><rect x="262.8" y="553" width="1.2" height="1.2" fill="#ddd"/>
<rect x="244" y="560" width="15" height="4" fill="#3a5ad0"/>
<rect x="343" y="534.7" width="53.5" height="42.3" fill="#bcbcbc"/>
<rect x="345" y="539" width="45" height="13" fill="#efeee8" stroke="#999" stroke-width="0.5"/>
<rect x="345" y="557" width="45" height="14" fill="#eae4d6" stroke="#999" stroke-width="0.5"/>
<rect x="347" y="545" width="13" height="1.2" fill="#c04040"/>
<circle cx="352" cy="565" r="2" fill="#d0a070"/>
<circle cx="361.3" cy="565" r="2" fill="#d0a070"/>
<circle cx="370.4" cy="565" r="2" fill="#d0a070"/>
<circle cx="382.4" cy="565" r="2" fill="#d0a070"/>
<rect x="312" y="551" width="14" height="6" rx="3" fill="#f6f6f6" stroke="#666" stroke-width="0.6"/><rect x="312" y="559" width="14" height="6" rx="3" fill="#f6f6f6" stroke="#666" stroke-width="0.6"/><rect x="312" y="567" width="14" height="6" rx="3" fill="#f6f6f6" stroke="#666" stroke-width="0.6"/>
<circle cx="405.4" cy="545" r="4.3" fill="#c89050" stroke="#8a5a2a" stroke-width="0.8"/><circle cx="405.4" cy="545" r="1.5" fill="#6a3a10"/>
<circle cx="421" cy="552" r="6" fill="#111"/><circle cx="421" cy="552" r="3" fill="#2a4a2a"/>
<line x1="250.4" y1="548" x2="250.4" y2="668" stroke="#c0454a" stroke-width="0.9"/>
<line x1="256.6" y1="548" x2="256.6" y2="668" stroke="#c0454a" stroke-width="0.9"/>
<circle cx="250.4" cy="667" r="1.4" fill="#c0454a"/>
<circle cx="256.6" cy="667" r="1.4" fill="#c0454a"/>
<line x1="252.7" y1="690" x2="252.7" y2="702" stroke="#c0454a" stroke-width="0.9"/>
<line x1="307.7" y1="545.4" x2="360.5" y2="545.4" stroke="#c0454a" stroke-width="0.9"/>
<line x1="307.7" y1="545.4" x2="307.7" y2="818.5" stroke="#c0454a" stroke-width="0.9"/>
<circle cx="307.7" cy="818.5" r="1.4" fill="#c0454a"/>
<line x1="352" y1="565" x2="352" y2="694.5" stroke="#c0454a" stroke-width="0.9"/>
<line x1="352" y1="694.5" x2="373.5" y2="694.5" stroke="#c0454a" stroke-width="0.9"/>
<circle cx="374" cy="694.5" r="1.4" fill="#c0454a"/>
<line x1="361.3" y1="565" x2="361.3" y2="634" stroke="#c0454a" stroke-width="0.9"/>
<line x1="361.3" y1="634" x2="497" y2="634" stroke="#c0454a" stroke-width="0.9"/>
<circle cx="497" cy="634" r="1.4" fill="#c0454a"/>
<line x1="370.4" y1="565" x2="370.4" y2="593" stroke="#c0454a" stroke-width="0.9"/>
<line x1="370.4" y1="593" x2="497" y2="593" stroke="#c0454a" stroke-width="0.9"/>
<circle cx="497" cy="593" r="1.4" fill="#c0454a"/>
<line x1="382.4" y1="565" x2="382.4" y2="659.6" stroke="#c0454a" stroke-width="0.9"/>
<line x1="382.4" y1="659.6" x2="556.7" y2="659.6" stroke="#c0454a" stroke-width="0.9"/>
<line x1="556.7" y1="659.6" x2="556.7" y2="677" stroke="#c0454a" stroke-width="0.9"/>
<circle cx="556.7" cy="677" r="1.4" fill="#c0454a"/>
<line x1="405.4" y1="540" x2="405.4" y2="506.5" stroke="#c0454a" stroke-width="0.9"/>
<line x1="405.4" y1="506.5" x2="497" y2="506.5" stroke="#c0454a" stroke-width="0.9"/>
<circle cx="497" cy="506.5" r="1.4" fill="#c0454a"/>
<line x1="427" y1="552.5" x2="497" y2="552.5" stroke="#c0454a" stroke-width="0.9"/>
<circle cx="497" cy="552.5" r="1.4" fill="#c0454a"/>
<text x="509" y="510" font-size="9.4" fill="#2a2a2a" textLength="55" lengthAdjust="spacingAndGlyphs">GPS Antenna</text>
<text x="507.5" y="551.5" font-size="9.4" fill="#2a2a2a" textLength="17" lengthAdjust="spacingAndGlyphs">ANT</text>
<text x="507" y="561.8" font-size="4.6" fill="#b8262e" textLength="66" lengthAdjust="spacingAndGlyphs">(Not included in our parcel)</text>
<text x="505" y="597" font-size="9.4" fill="#2a2a2a" textLength="44" lengthAdjust="spacingAndGlyphs">USB Cable</text>
<text x="506" y="638" font-size="9.4" fill="#2a2a2a" textLength="44" lengthAdjust="spacingAndGlyphs">USB Cable</text>
<rect x="575" y="496" width="9" height="7" rx="1.5" fill="#222" transform="rotate(-20 579 499)"/><ellipse cx="595" cy="504.5" rx="9" ry="5" fill="none" stroke="#222" stroke-width="1.6"/><path d="M586 504 L578 498 M600 509 L603 514" stroke="#222" stroke-width="1"/>
<path d="M532 549 C536 540 548 542 556 549 M534 548 C540 544 548 546 553 550 M556 549 L559 538" fill="none" stroke="#333" stroke-width="0.9"/><rect x="557" y="548" width="3" height="4" fill="#333"/>
<ellipse cx="574" cy="591" rx="12" ry="3.2" fill="none" stroke="#222" stroke-width="1.3" transform="rotate(-58 574 591)"/>
<path d="M568 599 L563 605" stroke="#222" stroke-width="2.6"/><path d="M571 596 L566 602" stroke="#333" stroke-width="1"/>
<ellipse cx="574" cy="632" rx="12" ry="3.2" fill="none" stroke="#222" stroke-width="1.3" transform="rotate(-58 574 632)"/>
<path d="M568 640 L563 646" stroke="#222" stroke-width="2.6"/><path d="M571 637 L566 643" stroke="#333" stroke-width="1"/>
<text x="383" y="697.8" font-size="9" font-weight="bold" fill="#b8262e" textLength="83" lengthAdjust="spacingAndGlyphs">RCA Output Socket C</text>
<text x="508" y="697.8" font-size="9" font-weight="bold" fill="#b8262e" textLength="85" lengthAdjust="spacingAndGlyphs">RCA Output Socket D</text>
<text x="265" y="834.5" font-size="9" font-weight="bold" fill="#b8262e" textLength="86" lengthAdjust="spacingAndGlyphs">RCA Output Socket A</text>
<rect x="383.5" y="711.6" width="0.9" height="48.9" fill="#555"/><rect x="383.5" y="711.6" width="6" height="0.9" fill="#555"/><rect x="389.5" y="711.2" width="4" height="1.6" fill="#d81820"/><path d="M392.5 710.2 L395.5 709 L408.0 709 L408.0 715 L395.5 715 L392.5 713.8 Z" fill="#d81820"/><rect x="397.5" y="709" width="1" height="6" fill="#fff" opacity="0.35"/><rect x="401.5" y="709" width="1" height="6" fill="#fff" opacity="0.35"/><rect x="408.0" y="709.8" width="4.5" height="4.4" fill="#d8d8d8"/><text x="417.3" y="715.4" font-size="9.4" fill="#2a2a2a" textLength="28" lengthAdjust="spacingAndGlyphs">RCA-RR</text><rect x="383.5" y="728.0" width="6" height="0.9" fill="#555"/><rect x="389.5" y="727.6" width="4" height="1.6" fill="#e6e6e6"/><path d="M392.5 726.6 L395.5 725.4 L408.0 725.4 L408.0 731.4 L395.5 731.4 L392.5 730.1999999999999 Z" fill="#e6e6e6"/><rect x="397.5" y="725.4" width="1" height="6" fill="#fff" opacity="0.35"/><rect x="401.5" y="725.4" width="1" height="6" fill="#fff" opacity="0.35"/><rect x="408.0" y="726.1999999999999" width="4.5" height="4.4" fill="#d8d8d8"/><text x="417.3" y="731.8" font-size="9.4" fill="#2a2a2a" textLength="28" lengthAdjust="spacingAndGlyphs">RCA-RL</text><rect x="383.5" y="743.6" width="6" height="0.9" fill="#555"/><rect x="390.5" y="743.2" width="22" height="1.6" fill="#5a2a1a"/><text x="417.3" y="747.4" font-size="9.4" fill="#2a2a2a" textLength="31" lengthAdjust="spacingAndGlyphs">CAN-TX</text><rect x="383.5" y="759.6" width="6" height="0.9" fill="#555"/><rect x="390.5" y="759.2" width="22" height="1.6" fill="#e89090"/><text x="417.3" y="763.4" font-size="9.4" fill="#2a2a2a" textLength="31" lengthAdjust="spacingAndGlyphs">CAN-RX</text>
<rect x="509.8" y="711.6" width="0.9" height="48.9" fill="#555"/><rect x="509.8" y="711.6" width="6" height="0.9" fill="#555"/><rect x="516.8" y="711.5" width="14" height="1" fill="#ddd"/><rect x="530.8" y="711.2" width="8" height="1.6" fill="#4a80c0"/><text x="543.5" y="715.4" font-size="9.4" fill="#2a2a2a" textLength="56" lengthAdjust="spacingAndGlyphs">WIFI Antenna</text><rect x="509.8" y="728.0" width="6" height="0.9" fill="#555"/><rect x="516.8" y="727.9" width="14" height="1" fill="#ddd"/><rect x="530.8" y="727.6" width="8" height="1.6" fill="#4a80c0"/><text x="543.5" y="731.8" font-size="9.4" fill="#2a2a2a" textLength="63" lengthAdjust="spacingAndGlyphs">Bluetooth Antenna</text><rect x="509.8" y="743.6" width="6" height="0.9" fill="#555"/><rect x="515.8" y="743.2" width="4" height="1.6" fill="#f0c020"/><path d="M518.8 742.2 L521.8 741 L534.3 741 L534.3 747 L521.8 747 L518.8 745.8 Z" fill="#f0c020"/><rect x="523.8" y="741" width="1" height="6" fill="#fff" opacity="0.35"/><rect x="527.8" y="741" width="1" height="6" fill="#fff" opacity="0.35"/><rect x="534.3" y="741.8" width="4.5" height="4.4" fill="#d8d8d8"/><text x="543.5" y="747.4" font-size="9.4" fill="#2a2a2a" textLength="36" lengthAdjust="spacingAndGlyphs">CAMERA</text><rect x="509.8" y="759.6" width="6" height="0.9" fill="#555"/><rect x="525.8" y="759" width="13" height="2" fill="#1a3a8a"/><text x="543.5" y="763.4" font-size="9.4" fill="#2a2a2a" textLength="37" lengthAdjust="spacingAndGlyphs">PARKING</text>
<rect x="266.5" y="848.1" width="0.9" height="33.4" fill="#555"/><rect x="266.5" y="848.1" width="6" height="0.9" fill="#555"/><rect x="272.5" y="847.7" width="4" height="1.6" fill="#d81820"/><path d="M275.5 846.7 L278.5 845.5 L291.0 845.5 L291.0 851.5 L278.5 851.5 L275.5 850.3 Z" fill="#d81820"/><rect x="280.5" y="845.5" width="1" height="6" fill="#fff" opacity="0.35"/><rect x="284.5" y="845.5" width="1" height="6" fill="#fff" opacity="0.35"/><rect x="291.0" y="846.3" width="4.5" height="4.4" fill="#d8d8d8"/><text x="300.5" y="851.9" font-size="9.4" fill="#2a2a2a" textLength="28" lengthAdjust="spacingAndGlyphs">RCA-FR</text><rect x="266.5" y="864.6" width="6" height="0.9" fill="#555"/><rect x="272.5" y="864.2" width="4" height="1.6" fill="#e6e6e6"/><path d="M275.5 863.2 L278.5 862 L291.0 862 L291.0 868 L278.5 868 L275.5 866.8 Z" fill="#e6e6e6"/><rect x="280.5" y="862" width="1" height="6" fill="#fff" opacity="0.35"/><rect x="284.5" y="862" width="1" height="6" fill="#fff" opacity="0.35"/><rect x="291.0" y="862.8" width="4.5" height="4.4" fill="#d8d8d8"/><text x="300.5" y="868.4" font-size="9.4" fill="#2a2a2a" textLength="30" lengthAdjust="spacingAndGlyphs">RCA-FL</text><rect x="266.5" y="880.6" width="6" height="0.9" fill="#555"/><rect x="272.5" y="880.2" width="4" height="1.6" fill="#d81820"/><path d="M275.5 879.2 L278.5 878 L291.0 878 L291.0 884 L278.5 884 L275.5 882.8 Z" fill="#d81820"/><rect x="280.5" y="878" width="1" height="6" fill="#fff" opacity="0.35"/><rect x="284.5" y="878" width="1" height="6" fill="#fff" opacity="0.35"/><rect x="291.0" y="878.8" width="4.5" height="4.4" fill="#d8d8d8"/><text x="300.5" y="884.4" font-size="9.4" fill="#2a2a2a" textLength="37" lengthAdjust="spacingAndGlyphs">AUX IN R</text>
<rect x="383.5" y="848.6" width="0.9" height="33.4" fill="#555"/><rect x="383.5" y="848.6" width="6" height="0.9" fill="#555"/><rect x="389.5" y="848.2" width="4" height="1.6" fill="#e6e6e6"/><path d="M392.5 847.2 L395.5 846 L408.0 846 L408.0 852 L395.5 852 L392.5 850.8 Z" fill="#e6e6e6"/><rect x="397.5" y="846" width="1" height="6" fill="#fff" opacity="0.35"/><rect x="401.5" y="846" width="1" height="6" fill="#fff" opacity="0.35"/><rect x="408.0" y="846.8" width="4.5" height="4.4" fill="#d8d8d8"/><text x="417.3" y="852.4" font-size="9.4" fill="#2a2a2a" textLength="36" lengthAdjust="spacingAndGlyphs">AUX IN L</text><rect x="383.5" y="865.1" width="6" height="0.9" fill="#555"/><rect x="389.5" y="864.7" width="4" height="1.6" fill="#1a3ab0"/><path d="M392.5 863.7 L395.5 862.5 L408.0 862.5 L408.0 868.5 L395.5 868.5 L392.5 867.3 Z" fill="#1a3ab0"/><rect x="397.5" y="862.5" width="1" height="6" fill="#fff" opacity="0.35"/><rect x="401.5" y="862.5" width="1" height="6" fill="#fff" opacity="0.35"/><rect x="408.0" y="863.3" width="4.5" height="4.4" fill="#d8d8d8"/><text x="417.3" y="868.9" font-size="9.4" fill="#2a2a2a" textLength="57" lengthAdjust="spacingAndGlyphs">SUB-WOOFER</text><rect x="383.5" y="881.1" width="6" height="0.9" fill="#555"/><rect x="389.5" y="880.7" width="4" height="1.6" fill="#f0c020"/><path d="M392.5 879.7 L395.5 878.5 L408.0 878.5 L408.0 884.5 L395.5 884.5 L392.5 883.3 Z" fill="#f0c020"/><rect x="397.5" y="878.5" width="1" height="6" fill="#fff" opacity="0.35"/><rect x="401.5" y="878.5" width="1" height="6" fill="#fff" opacity="0.35"/><rect x="408.0" y="879.3" width="4.5" height="4.4" fill="#d8d8d8"/><text x="417.3" y="884.9" font-size="9.4" fill="#2a2a2a" textLength="61" lengthAdjust="spacingAndGlyphs">AUX Video in 1</text>
<rect x="509.8" y="848.6" width="0.9" height="33.4" fill="#555"/><rect x="509.8" y="848.6" width="6" height="0.9" fill="#555"/><rect x="515.8" y="848.2" width="4" height="1.6" fill="#f0c020"/><path d="M518.8 847.2 L521.8 846 L534.3 846 L534.3 852 L521.8 852 L518.8 850.8 Z" fill="#f0c020"/><rect x="523.8" y="846" width="1" height="6" fill="#fff" opacity="0.35"/><rect x="527.8" y="846" width="1" height="6" fill="#fff" opacity="0.35"/><rect x="534.3" y="846.8" width="4.5" height="4.4" fill="#d8d8d8"/><text x="543.5" y="852.4" font-size="9.4" fill="#2a2a2a" textLength="63" lengthAdjust="spacingAndGlyphs">FRONT CAMERA</text><rect x="509.8" y="865.1" width="6" height="0.9" fill="#555"/><rect x="516.8" y="864.7" width="6" height="1.6" fill="#888"/><rect x="521.8" y="863.2" width="15" height="4.6" rx="2.3" fill="#111"/><text x="543.5" y="868.9" font-size="9.4" fill="#2a2a2a" textLength="16" lengthAdjust="spacingAndGlyphs">MIC</text><rect x="509.8" y="881.1" width="6" height="0.9" fill="#555"/><rect x="516.8" y="880.7" width="22" height="1.6" fill="#6a2a1a"/><text x="543.5" y="884.9" font-size="9.4" fill="#2a2a2a" textLength="19" lengthAdjust="spacingAndGlyphs">AMP</text>
</svg><!--S2END-->
<div id="s2"></div>

<!-- ===== SECTION 3 ===== -->
<div class="panel" style="left:11.8px;top:986.7px;width:678.8px;height:477.2px;border-radius:12px"><div class="in" style="border-radius:9px"></div></div>
<div class="pill" style="left:210px;top:958px;width:282px;height:40px;line-height:39px;font-size:28.1px">Package Included</div>

<div class="band" style="top:1120px"><span style="left:83px;color:#4a0a4a">Power Socket A</span><span style="left:217px;color:#4a0a4a">RCA&nbsp; A</span><span style="left:353px;color:#2a1a4a">RCA&nbsp; B</span><span style="left:489px;color:#0a3a40">RCA&nbsp; C</span><span style="left:629px;color:#0a3a40">GPS Antenna</span></div>
<div class="band" style="top:1265.4px;height:32.6px"><span style="left:83px;color:#4a0a4a;top:0">Rear Camera</span><span style="left:217px;color:#4a0a4a;top:0">External Mic</span><span style="left:353px;color:#2a1a4a;top:0">USB Cable</span><span style="left:489px;color:#0a3a40;top:0">Install Brackets</span><span style="left:629px;color:#0a3a40;top:0">Instructions</span></div>
<div class="band" style="top:1420.5px"><span style="left:83px;color:#4a0a4a">Power Socket B</span><span style="left:217px;color:#4a0a4a">Canbus</span><span style="left:353px;color:#2a1a4a">Canbus A</span></div>
<!--FOLDS--><svg class="a" style="left:0;top:0" width="703" height="1500" viewBox="0 0 703 1500">
<g fill="#d838d8"><polygon points="1,1120 11.8,1113.3 11.8,1120"/><polygon points="1,1265 11.8,1258.3 11.8,1265"/><polygon points="1,1420.5 11.8,1413.8 11.8,1420.5"/></g>
<g fill="#28c8d0"><polygon points="703,1120 690.6,1113 690.6,1120"/><polygon points="703,1265 690.6,1258 690.6,1265"/><polygon points="703,1420.5 690.6,1413.5 690.6,1420.5"/></g>
</svg>
<!--S3START--><svg class="a" style="left:0;top:0" width="703" height="1500" viewBox="0 0 703 1500" font-family="Liberation Sans">
<defs>
<linearGradient id="brk" x1="0" y1="0" x2="1" y2="1"><stop offset="0" stop-color="#d8dde2"/><stop offset="1" stop-color="#9aa2aa"/></linearGradient>
<linearGradient id="cbA" x1="0" y1="0" x2="1" y2="0"><stop offset="0" stop-color="#6a3426"/><stop offset="0.5" stop-color="#5a2a1e"/><stop offset="1" stop-color="#6e3828"/></linearGradient>
<radialGradient id="mic" cx="0.45" cy="0.4" r="0.6"><stop offset="0" stop-color="#2a2a2a"/><stop offset="1" stop-color="#0a0a0a"/></radialGradient>
</defs>
<path d="M60 1030 C68 1036 76 1050 80 1072" fill="none" stroke="#bbb" stroke-width="0.8" stroke-linecap="round" />
<path d="M58 1035 C66 1040 74 1052 81 1074" fill="none" stroke="#999" stroke-width="0.8" stroke-linecap="round" />
<path d="M68 1032 C72 1045 78 1060 82 1080" fill="none" stroke="#c8a0c0" stroke-width="0.8" stroke-linecap="round" />
<path d="M62 1041 C70 1045 76 1055 80 1068" fill="none" stroke="#ccc" stroke-width="0.8" stroke-linecap="round" />
<path d="M79 1035 C86 1048 86 1070 82 1090 C80 1098 78 1102 77 1106" fill="none" stroke="#d8b020" stroke-width="1.6" stroke-linecap="round" />
<path d="M77 1035 C83 1050 84 1072 80 1092 C79 1098 77 1102 76 1106" fill="none" stroke="#222" stroke-width="1.4" stroke-linecap="round" />
<path d="M80 1036 C88 1052 88 1070 84 1088" fill="none" stroke="#e0c040" stroke-width="1.2" stroke-linecap="round" />
<g transform="rotate(-8 76 1025)"><rect x="69.5" y="1016.5" width="13.5" height="7" fill="#eee" stroke="#333" stroke-width="1"/><rect x="71" y="1023.5" width="11" height="11" fill="#111"/></g>
<rect x="73" y="1104" width="8.5" height="8" fill="#151515"/>
<path d="M208.5 1019 C212 1028 216 1036 218 1045" fill="none" stroke="#111" stroke-width="2.2" stroke-linecap="round" />
<rect x="207" y="1017" width="4" height="4" fill="#c09080"/>
<path d="M218 1045 C206.4 1060 194.8 1075 194.8 1090" fill="none" stroke="#222" stroke-width="0.9" stroke-linecap="round" />
<path d="M218 1045 C211.0 1060 204.0 1075 204.0 1090" fill="none" stroke="#222" stroke-width="0.9" stroke-linecap="round" />
<path d="M218 1045 C215.5 1060 213.0 1075 213.0 1090" fill="none" stroke="#222" stroke-width="0.9" stroke-linecap="round" />
<path d="M218 1045 C218.3 1060 218.7 1075 218.7 1090" fill="none" stroke="#222" stroke-width="0.9" stroke-linecap="round" />
<path d="M218 1045 C222.0 1060 226.0 1075 226.0 1090" fill="none" stroke="#222" stroke-width="0.9" stroke-linecap="round" />
<path d="M218 1045 C224.9 1060 231.8 1075 231.8 1090" fill="none" stroke="#222" stroke-width="0.9" stroke-linecap="round" />
<path d="M218 1045 C228.3 1060 238.6 1075 238.6 1090" fill="none" stroke="#222" stroke-width="0.9" stroke-linecap="round" />
<g transform="rotate(-25 194.8 1097)"><rect x="192.2" y="1090" width="5.2" height="11" rx="1.2" fill="#f2f2f2" stroke="#999" stroke-width="0.3"/><rect x="193.8" y="1101" width="2" height="3.5" fill="#888"/></g>
<g transform="rotate(-15 204 1097)"><rect x="201.4" y="1090" width="5.2" height="11" rx="1.2" fill="#e01818" stroke="#999" stroke-width="0.3"/><rect x="203.0" y="1101" width="2" height="3.5" fill="#888"/></g>
<g transform="rotate(-8 213 1097)"><rect x="210.4" y="1090" width="5.2" height="11" rx="1.2" fill="#e01818" stroke="#999" stroke-width="0.3"/><rect x="212.0" y="1101" width="2" height="3.5" fill="#888"/></g>
<g transform="rotate(0 218.7 1097)"><rect x="216.1" y="1090" width="5.2" height="11" rx="1.2" fill="#eee" stroke="#999" stroke-width="0.3"/><rect x="217.7" y="1101" width="2" height="3.5" fill="#888"/></g>
<g transform="rotate(5 226 1097)"><rect x="223.4" y="1090" width="5.2" height="11" rx="1.2" fill="#1848c8" stroke="#999" stroke-width="0.3"/><rect x="225.0" y="1101" width="2" height="3.5" fill="#888"/></g>
<g transform="rotate(12 231.8 1097)"><rect x="229.2" y="1090" width="5.2" height="11" rx="1.2" fill="#f0d020" stroke="#999" stroke-width="0.3"/><rect x="230.8" y="1101" width="2" height="3.5" fill="#888"/></g>
<g transform="rotate(18 238.6 1097)"><rect x="236.0" y="1090" width="5.2" height="11" rx="1.2" fill="#f0d020" stroke="#999" stroke-width="0.3"/><rect x="237.6" y="1101" width="2" height="3.5" fill="#888"/></g>
<path d="M220 1050 L232 1078" stroke="#111" stroke-width="3" stroke-linecap="round"/>
<path d="M226 1052 C238 1070 246 1085 250 1098" fill="none" stroke="#aaa" stroke-width="0.7" stroke-linecap="round" />
<rect x="352" y="1014.5" width="5" height="4" fill="#eee" stroke="#999" stroke-width="0.4"/>
<path d="M355 1019 C357 1040 355 1065 350 1080 C347 1086 345 1090 343 1093" fill="none" stroke="#4a2a20" stroke-width="1.2" stroke-linecap="round" />
<path d="M356 1025 C362 1045 362 1070 358 1090 C357 1098 356 1102 356 1106" fill="none" stroke="#d08890" stroke-width="0.9" stroke-linecap="round" />
<path d="M355 1040 C352 1046 350 1050 349 1056" fill="none" stroke="#c0c8d0" stroke-width="0.7" stroke-linecap="round" />
<path d="M356 1041 C355 1048 353 1052 352 1057" fill="none" stroke="#c0c8d0" stroke-width="0.7" stroke-linecap="round" />
<rect x="347.5" y="1054" width="2" height="5" fill="#3a78d8" transform="rotate(15 348 1056)"/><rect x="351" y="1055" width="2" height="5" fill="#3a78d8" transform="rotate(15 352 1057)"/>
<g transform="rotate(35 342 1097)"><rect x="339" y="1090" width="6.5" height="12" rx="1.5" fill="#f0c818" stroke="#b09010" stroke-width="0.4"/></g>
<rect x="348" y="1076" width="10" height="1.2" fill="#ccc" transform="rotate(15 353 1077)"/><rect x="360" y="1080" width="8" height="1.2" fill="#ccc"/>
<rect x="496.5" y="1018" width="5" height="4" fill="#eee" stroke="#999" stroke-width="0.4" transform="rotate(30 499 1020)"/>
<path d="M497 1022 C488 1034 484 1046 483 1060 C482 1075 484 1085 486 1094" fill="none" stroke="#5a3028" stroke-width="1" stroke-linecap="round" />
<path d="M498 1023 C490 1036 486 1050 486 1065 C486 1078 488 1088 491 1094" fill="none" stroke="#d0a0a8" stroke-width="0.9" stroke-linecap="round" />
<path d="M496 1024 C487 1040 482 1055 482 1070 C482 1082 484 1090 485 1096" fill="none" stroke="#aaa" stroke-width="0.7" stroke-linecap="round" />
<g transform="rotate(-10 488 1100)"><rect x="485" y="1094" width="5" height="10" rx="1.2" fill="#e01818"/></g><g transform="rotate(-15 495 1099)"><rect x="492" y="1093" width="5" height="10" rx="1.2" fill="#eee" stroke="#bbb" stroke-width="0.3"/></g>
<rect x="481" y="1101" width="6" height="5" fill="#eee"/>
<ellipse cx="645" cy="1062" rx="19" ry="14" fill="none" stroke="#141414" stroke-width="3.2" transform="rotate(-8 645 1062)"/>
<ellipse cx="644" cy="1063" rx="15.5" ry="11" fill="none" stroke="#1a1a1a" stroke-width="1.3" transform="rotate(-8 644 1063)"/>
<path d="M626 1060 L626 1042 L640 1047" fill="none" stroke="#222" stroke-width="0.9" stroke-linecap="round" />
<path d="M648 1075 C644 1080 638 1084 632 1086" fill="none" stroke="#222" stroke-width="1" stroke-linecap="round" />
<path d="M655 1073 C657 1076 658 1078 657 1080" fill="none" stroke="#999" stroke-width="0.8" stroke-linecap="round" />
<rect x="629" y="1083" width="4" height="6" fill="#c8a850" transform="rotate(15 631 1086)"/>
<g transform="rotate(-14 610 1063)"><rect x="597.5" y="1053" width="25" height="20" rx="4" fill="#1c1c1c"/><rect x="599" y="1054" width="22" height="6" rx="3" fill="#2e2e2e"/></g>
<path d="M54 1194 C56 1188 60 1183 66 1182.5 C72 1182 76 1186 80 1188 C88 1190 100 1188 108 1191 C112 1193 112 1198 108 1201 C104 1205 100 1207 95 1206 C88 1204 80 1200 72 1201 C66 1202 62 1203 58 1201 C55 1199 54 1197 54 1194 Z" fill="#6a6a6a" stroke="#444" stroke-width="0.6"/>
<ellipse cx="62" cy="1192" rx="3" ry="2" fill="#fff" transform="rotate(-30 62 1192)"/><path d="M73 1188 L77 1193 L72 1195 Z" fill="#fff"/><path d="M84 1195 L96 1192 L92 1197 L84 1198 Z" fill="#fff"/><ellipse cx="104" cy="1197" rx="3" ry="1.6" fill="#fff" transform="rotate(-30 104 1197)"/>
<path d="M70 1201 L72 1207 L78 1207 L76 1200 Z" fill="#222"/>
<path d="M54 1217 L66 1206 L95 1208 L81 1219 Z" fill="#2a2a2a"/>
<path d="M81 1219 L95 1208 L97 1236 L83 1249 Z" fill="#0e0e0e"/>
<path d="M54 1217 L81 1219 L83 1249 L55 1247 Z" fill="#161616"/>
<circle cx="58.5" cy="1223" r="2.7" fill="#f4f4f4"/>
<circle cx="76" cy="1226" r="2.7" fill="#f4f4f4"/>
<circle cx="58.5" cy="1241.5" r="2.7" fill="#f4f4f4"/>
<circle cx="76.5" cy="1244" r="2.7" fill="#f4f4f4"/>
<circle cx="67" cy="1234" r="5.3" fill="#1e1e1e" stroke="#3a3a3a" stroke-width="0.9"/><circle cx="67" cy="1234" r="2.6" fill="#333"/><circle cx="66.2" cy="1233.2" r="0.9" fill="#aaa"/>
<path d="M221 1196 C230 1191 238 1187 247 1183" fill="none" stroke="#111" stroke-width="1.8" stroke-linecap="round" />
<path d="M189 1224 L214 1212 L231 1208 L233 1219 L226 1230 L220 1242 L200 1244 L189 1238 Z" fill="#151515"/>
<path d="M193 1230 L224 1220 L228 1227 L197 1239 Z" fill="#262626"/>
<rect x="213" y="1191" width="10" height="9" rx="2.5" fill="#111" transform="rotate(-25 218 1195)"/>
<ellipse cx="203" cy="1204" rx="18.5" ry="15.5" fill="url(#mic)" transform="rotate(-15 203 1204)"/>
<path d="M339.5 1217 C330.5 1208 330.5 1189 336.5 1187 M339.5 1217 C347.5 1208 348.5 1190 342.5 1187" fill="none" stroke="#111" stroke-width="2.2" stroke-linecap="round" />
<path d="M339.5 1217 C330.5 1226 329.5 1250 336.5 1255 C339.5 1257 343.5 1257 345.5 1254 C349.5 1248 347.5 1226 339.5 1217" fill="none" stroke="#111" stroke-width="2.2" stroke-linecap="round" />
<path d="M338.5 1219 C333.5 1230 332.5 1248 338.5 1253 M340.5 1219 C345.5 1230 345.5 1246 341.5 1252" fill="none" stroke="#222" stroke-width="1.2" stroke-linecap="round" />
<rect x="336.0" y="1184" width="7" height="11" rx="1" fill="#111"/><rect x="337.5" y="1206" width="4" height="5" fill="#eee" stroke="#333" stroke-width="0.5"/>
<path d="M339.5 1195 L339.5 1206" fill="none" stroke="#111" stroke-width="1.6" stroke-linecap="round" />
<path d="M330.5 1190 L332.5 1196" fill="none" stroke="#ccc" stroke-width="0.8" stroke-linecap="round" />
<path d="M370.5 1217 C361.5 1208 361.5 1189 367.5 1187 M370.5 1217 C378.5 1208 379.5 1190 373.5 1187" fill="none" stroke="#111" stroke-width="2.2" stroke-linecap="round" />
<path d="M370.5 1217 C361.5 1226 360.5 1250 367.5 1255 C370.5 1257 374.5 1257 376.5 1254 C380.5 1248 378.5 1226 370.5 1217" fill="none" stroke="#111" stroke-width="2.2" stroke-linecap="round" />
<path d="M369.5 1219 C364.5 1230 363.5 1248 369.5 1253 M371.5 1219 C376.5 1230 376.5 1246 372.5 1252" fill="none" stroke="#222" stroke-width="1.2" stroke-linecap="round" />
<rect x="367.0" y="1184" width="7" height="11" rx="1" fill="#111"/><rect x="368.5" y="1206" width="4" height="5" fill="#eee" stroke="#333" stroke-width="0.5"/>
<path d="M370.5 1195 L370.5 1206" fill="none" stroke="#111" stroke-width="1.6" stroke-linecap="round" />
<path d="M361.5 1190 L363.5 1196" fill="none" stroke="#ccc" stroke-width="0.8" stroke-linecap="round" />
<path d="M455 1193 L479 1189 L492 1208 L468 1217 Z" fill="#c4d0d8" stroke="#8a98a2" stroke-width="0.6"/>
<path d="M460 1197 L481 1193 M464 1204 L486 1199 M468 1211 L489 1205" stroke="#f4f8fa" stroke-width="1.6"/>
<path d="M450 1189 L455 1189 L469 1216 L467 1221 Z" fill="#dfe6ea" stroke="#8a98a2" stroke-width="0.6"/>
<path d="M453 1194 L454.5 1197 M457 1201 L458.5 1204 M461 1208 L462.5 1211" stroke="#556" stroke-width="1.2"/>
<path d="M479 1201 L503 1197 L516 1216 L492 1225 Z" fill="#c4d0d8" stroke="#8a98a2" stroke-width="0.6"/>
<path d="M484 1205 L505 1201 M488 1212 L510 1207 M492 1219 L513 1213" stroke="#f4f8fa" stroke-width="1.6"/>
<path d="M474 1197 L479 1197 L493 1224 L491 1229 Z" fill="#dfe6ea" stroke="#8a98a2" stroke-width="0.6"/>
<path d="M477 1202 L478.5 1205 M481 1209 L482.5 1212 M485 1216 L486.5 1219" stroke="#556" stroke-width="1.2"/>
<rect x="469.5" y="1244.5" width="4" height="6.5" fill="#a8a8a0"/><ellipse cx="471.5" cy="1242" rx="5" ry="4.2" fill="#d0d0c8" stroke="#8a8a82" stroke-width="0.6"/><path d="M469.0 1243 L474.0 1241 M470.5 1239.5 L472.5 1244.5" stroke="#444" stroke-width="0.9"/>
<rect x="478.5" y="1244.5" width="4" height="6.5" fill="#a8a8a0"/><ellipse cx="480.5" cy="1242" rx="5" ry="4.2" fill="#d0d0c8" stroke="#8a8a82" stroke-width="0.6"/><path d="M478.0 1243 L483.0 1241 M479.5 1239.5 L481.5 1244.5" stroke="#444" stroke-width="0.9"/>
<rect x="487.5" y="1244.5" width="4" height="6.5" fill="#a8a8a0"/><ellipse cx="489.5" cy="1242" rx="5" ry="4.2" fill="#d0d0c8" stroke="#8a8a82" stroke-width="0.6"/><path d="M487.0 1243 L492.0 1241 M488.5 1239.5 L490.5 1244.5" stroke="#444" stroke-width="0.9"/>
<rect x="496.5" y="1244.5" width="4" height="6.5" fill="#a8a8a0"/><ellipse cx="498.5" cy="1242" rx="5" ry="4.2" fill="#d0d0c8" stroke="#8a8a82" stroke-width="0.6"/><path d="M496.0 1243 L501.0 1241 M497.5 1239.5 L499.5 1244.5" stroke="#444" stroke-width="0.9"/>
<rect x="606" y="1177" width="54" height="80" fill="#ecedf0" stroke="#dcdde0" stroke-width="0.5"/>
<text x="633" y="1203" font-size="5.2" fill="#555" text-anchor="middle">User Manual</text><rect x="623" y="1206" width="20" height="1" fill="#aaa"/><rect x="643" y="1250" width="6" height="2" fill="#777"/>
<path d="M61 1344 C66 1362 72 1380 74 1394 C75 1400 76 1404 77 1406" fill="none" stroke="#e8a060" stroke-width="1.1" stroke-linecap="round" />
<path d="M63 1346 C68 1365 73 1385 76 1402" fill="none" stroke="#d07030" stroke-width="1.1" stroke-linecap="round" />
<path d="M80 1346 C79 1360 80 1378 83 1397" fill="none" stroke="#222" stroke-width="1.1" stroke-linecap="round" />
<path d="M82 1346 C84 1362 82 1380 84 1397" fill="none" stroke="#c03020" stroke-width="1.1" stroke-linecap="round" />
<path d="M84 1346 C82 1362 79 1380 81 1397" fill="none" stroke="#e07030" stroke-width="1.1" stroke-linecap="round" />
<path d="M81 1347 C77 1365 80 1385 82 1396" fill="none" stroke="#6a3020" stroke-width="1.1" stroke-linecap="round" />
<path d="M79 1347 C76 1352 74 1356 73 1360" fill="none" stroke="#3050b0" stroke-width="1.1" stroke-linecap="round" />
<path d="M83 1348 C82 1358 79 1365 78 1372" fill="none" stroke="#5060a0" stroke-width="1.1" stroke-linecap="round" />
<path d="M88 1346 C94 1340 100 1338 106 1343" fill="none" stroke="#a0a0a0" stroke-width="1.1" stroke-linecap="round" />
<path d="M87 1348 C96 1348 104 1350 110 1351" fill="none" stroke="#b08080" stroke-width="1.1" stroke-linecap="round" />
<path d="M86 1350 C94 1352 100 1355 106 1358" fill="none" stroke="#9a9a9a" stroke-width="1.1" stroke-linecap="round" />
<path d="M89 1343 C92 1340 94 1338 95 1336" fill="none" stroke="#c0c0c0" stroke-width="1.1" stroke-linecap="round" />
<g transform="rotate(12 82 1337)"><rect x="73" y="1328" width="19" height="9" fill="#151515"/><rect x="76" y="1330" width="13" height="4" fill="#e8e8e8"/><rect x="74" y="1337" width="17" height="9" fill="#1e1e1e"/></g>
<rect x="80" y="1396" width="8" height="6" fill="#1a1a1a" transform="rotate(-8 84 1399)"/><rect x="75" y="1403" width="5" height="4" fill="#eee" stroke="#c0a080" stroke-width="0.4"/><rect x="104" y="1354" width="4" height="3" fill="#eee" stroke="#aaa" stroke-width="0.4"/><rect x="60" y="1342" width="3" height="3" fill="#eee" stroke="#caa" stroke-width="0.4"/>
<rect x="199" y="1346" width="38.5" height="35" rx="1.5" fill="#262626" stroke="#3a3a3a" stroke-width="0.8"/><rect x="200" y="1347" width="36" height="2" fill="#3a3a3a"/><circle cx="230" cy="1364" r="0.8" fill="#555"/>
<path d="M307 1351 L397 1349 L397.5 1370 L393 1374 L310 1374.5 L307 1371 Z" fill="url(#cbA)"/>
<path d="M307 1351 L316 1343.5 L395 1343.5 L397 1349 Z" fill="#3c2018"/>
<path d="M307 1351 L397 1349" stroke="#2a140e" stroke-width="0.8"/>
<rect x="309" y="1354" width="18" height="14" fill="#e6dcc4" stroke="#9a8460" stroke-width="0.5"/><rect x="311" y="1356.5" width="14" height="6" fill="#f8f2e0"/><rect x="311" y="1363" width="14" height="3" fill="#d8c8a0"/>
</svg><!--S3END-->
<div id="s3"></div>

<!-- pill 1 -->
<div class="pill" style="left:130.5px;top:59px;width:442px;height:30px;line-height:30px;font-size:22.5px;padding-right:3px;background:linear-gradient(90deg,#fc46fc 0%,#f84afb 35%,#c860fb 42%,#a078fc 47%,#70a8fd 52%,#46d8fe 57%,#2ef4ff 61%,#2ef6ff 100%)">Multicolor illumination &amp; Languages</div>
</body></html>
